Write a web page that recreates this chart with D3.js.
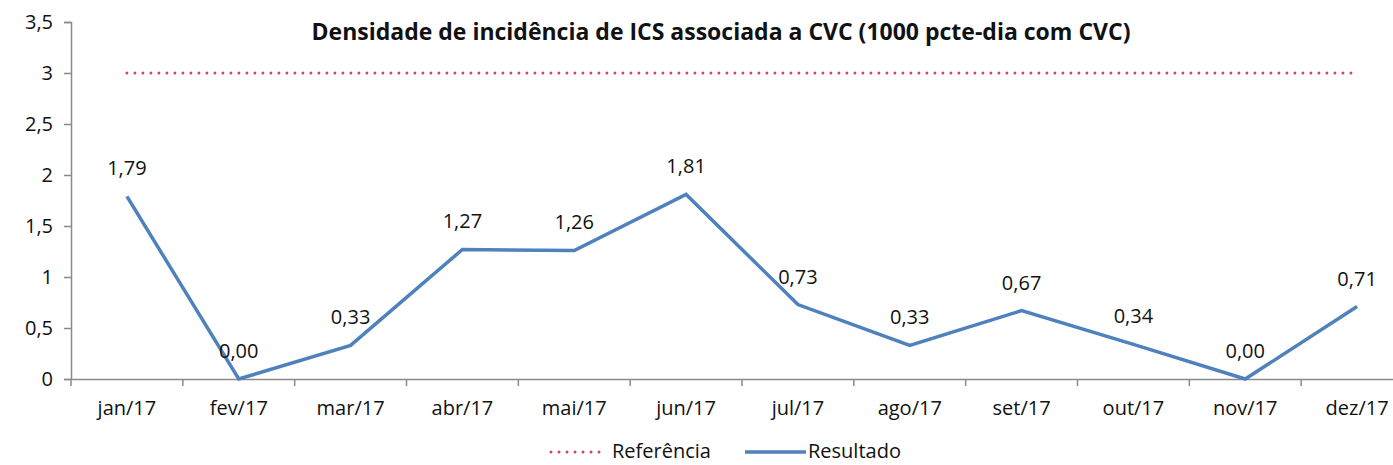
<html>
<head>
  <script type="text/javascript" src="https://cdn.jsdelivr.net/npm/d3@7"></script>
  <style>
  body { margin: 0; background: #fff; }
  text { font-family: "Open Sans", sans-serif; fill: #111; }
  </style>
</head>
<body>

<script type="text/javascript">
var months = ["jan/17", "fev/17", "mar/17", "abr/17", "mai/17", "jun/17",
              "jul/17", "ago/17", "set/17", "out/17", "nov/17", "dez/17"];
var resultado = [1.79, 0.00, 0.33, 1.27, 1.26, 1.81, 0.73, 0.33, 0.67, 0.34, 0.00, 0.71];
var referencia = [3, 3, 3, 3, 3, 3, 3, 3, 3, 3, 3, 3];
var yTicks = [0, 0.5, 1, 1.5, 2, 2.5, 3, 3.5];
var title = "Densidade de incidência de ICS associada a CVC (1000 pcte-dia com CVC)";
var legendNames = ["Referência", "Resultado"];

var W = 1393, H = 465;
var svg = d3.select("body").append("svg")
  .attr("width", W)
  .attr("height", H);

var x = d3.scaleBand().domain(months).range([71, 1413]);
var y = d3.scaleLinear().domain([0, 3.5]).range([379, 22]);
var cx = function(i) { return x(months[i]) + x.bandwidth() / 2; };

var comma = function(d, dec) {
  return (dec == null ? String(d) : d.toFixed(dec)).replace(".", ",");
};

// title
svg.append("text")
  .attr("x", 721)
  .attr("y", 40)
  .attr("text-anchor", "middle")
  .style("font-weight", "bold")
  .style("font-size", "23px")
  .text(title);

// y axis
var yAxis = svg.append("g")
  .attr("transform", "translate(71,0)")
  .call(d3.axisLeft(y).tickValues(yTicks).tickSize(7).tickPadding(11)
        .tickFormat(function(d) { return comma(d); }));
yAxis.selectAll("path, line").attr("stroke", "#8a8a8a").attr("stroke-width", 1.5);
yAxis.selectAll("text").style("font-size", "20px").attr("fill", "#111");

// x axis (labels centred, ticks between categories)
var xAxis = svg.append("g")
  .attr("transform", "translate(0,379)")
  .call(d3.axisBottom(x).tickSize(0).tickPadding(22).tickSizeOuter(0));
xAxis.select("path").attr("stroke", "#8a8a8a").attr("stroke-width", 1.5);
xAxis.selectAll("text").style("font-size", "20px").attr("fill", "#111");
xAxis.selectAll(".sep")
  .data(months)
  .enter().append("line")
  .attr("class", "sep")
  .attr("x1", function(d) { return x(d); })
  .attr("x2", function(d) { return x(d); })
  .attr("y1", 0)
  .attr("y2", 7)
  .attr("stroke", "#8a8a8a")
  .attr("stroke-width", 1.5);

// reference line
var line = d3.line()
  .x(function(d, i) { return cx(i); })
  .y(function(d) { return y(d); });

svg.append("path")
  .datum(referencia)
  .attr("d", line)
  .attr("fill", "none")
  .attr("stroke", "#cc4b5a")
  .attr("stroke-width", 3)
  .attr("stroke-linecap", "round")
  .attr("stroke-dasharray", "0,8");

// result line
svg.append("path")
  .datum(resultado)
  .attr("d", line)
  .attr("fill", "none")
  .attr("stroke", "#4f81bd")
  .attr("stroke-width", 3.5)
  .attr("stroke-linejoin", "miter");

// value labels
svg.selectAll(".lbl")
  .data(resultado)
  .enter().append("text")
  .attr("class", "lbl")
  .attr("x", function(d, i) { return cx(i); })
  .attr("y", function(d) { return y(d) - 21; })
  .attr("text-anchor", "middle")
  .style("font-size", "20px")
  .text(function(d) { return comma(d, 2); });

// legend
var lg = svg.append("g").attr("transform", "translate(0,452)");
lg.append("line")
  .attr("x1", 551).attr("x2", 607).attr("y1", 0).attr("y2", 0)
  .attr("stroke", "#cc4b5a").attr("stroke-width", 3)
  .attr("stroke-linecap", "round").attr("stroke-dasharray", "0,8");
lg.append("text").attr("x", 612).attr("y", 6).style("font-size", "20px").text(legendNames[0]);
lg.append("line")
  .attr("x1", 745).attr("x2", 806).attr("y1", 0).attr("y2", 0)
  .attr("stroke", "#4f81bd").attr("stroke-width", 3.5);
lg.append("text").attr("x", 808).attr("y", 6).style("font-size", "20px").text(legendNames[1]);
</script>

</body>
</html>
